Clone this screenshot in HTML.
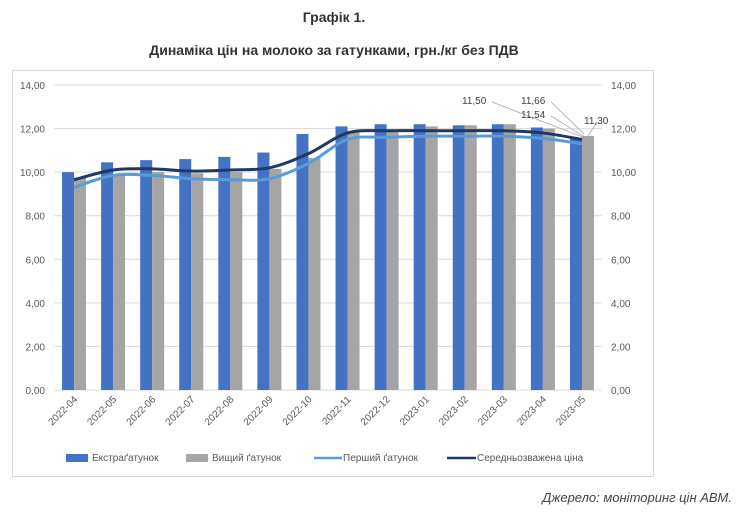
<!DOCTYPE html>
<html><head><meta charset="utf-8"><style>
body{margin:0;background:#fff;font-family:"Liberation Sans",sans-serif;}
svg text{font-family:"Liberation Sans",sans-serif;}
</style></head><body>
<svg width="740" height="512" viewBox="0 0 740 512" id="chart">
<text x="334" y="22" text-anchor="middle" font-size="14" font-weight="bold" fill="#333">Графік 1.</text>
<text x="334" y="55" text-anchor="middle" font-size="14" font-weight="bold" fill="#333">Динаміка цін на молоко за гатунками, грн./кг без ПДВ</text>
<rect x="12.5" y="70.5" width="641" height="406" fill="none" stroke="#d9d9d9"/>
<g id="grid"></g><g id="bars"></g><g id="lines"></g><g id="labels"></g>
<g font-size="10" fill="#595959">
<rect x="66" y="454" width="22" height="8" fill="#4472c4"/>
<text x="92" y="461">Екстраґатунок</text>
<rect x="186" y="454" width="22" height="8" fill="#a5a5a5"/>
<text x="212" y="461">Вищий ґатунок</text>
<line x1="314" y1="458" x2="342" y2="458" stroke="#5b9bd5" stroke-width="2.5"/>
<text x="343" y="461">Перший ґатунок</text>
<line x1="447" y1="458" x2="476" y2="458" stroke="#203864" stroke-width="2.5"/>
<text x="477" y="461">Середньозважена ціна</text>
</g>
<text x="732" y="502" text-anchor="end" font-size="13" font-style="italic" fill="#444">Джерело: моніторинг цін АВМ.</text>
</svg>
<script>
const categories=["2022-04","2022-05","2022-06","2022-07","2022-08","2022-09","2022-10","2022-11","2022-12","2023-01","2023-02","2023-03","2023-04","2023-05"];
const extra=[10.0,10.45,10.55,10.6,10.7,10.9,11.75,12.1,12.2,12.2,12.15,12.2,12.05,11.54];
const higher=[9.75,9.9,10.0,9.95,10.0,10.15,10.65,11.9,11.95,12.1,12.15,12.2,12.0,11.66];
const first=[9.3,9.85,9.85,9.7,9.65,9.7,10.4,11.5,11.6,11.65,11.65,11.65,11.55,11.30];
const avg=[9.65,10.1,10.15,10.05,10.1,10.2,10.85,11.8,11.9,11.9,11.9,11.9,11.8,11.5];
const ticks=[0,2,4,6,8,10,12,14];
const tickLabels=["0,00","2,00","4,00","6,00","8,00","10,00","12,00","14,00"];
const NS="http://www.w3.org/2000/svg";
const L=54.5,R=601.5,Y0=390,Y1=85,VMAX=14;
const step=(R-L)/categories.length;
const y=v=>Y0-(v/VMAX)*(Y0-Y1);
const xc=i=>L+step*(i+0.5);
function mk(t,a,p){const e=document.createElementNS(NS,t);for(const k in a)e.setAttribute(k,a[k]);p.appendChild(e);return e;}
const grid=document.getElementById('grid');
ticks.forEach((t,i)=>{
 const g=mk('line',{x1:L,x2:R,y1:y(t),y2:y(t),stroke:'#d9d9d9'},grid);
 
 
 const a=mk('text',{x:45,y:y(t)+4,'text-anchor':'end','font-size':10,fill:'#595959'},grid);a.textContent=tickLabels[i];
 
 
 const b=mk('text',{x:611,y:y(t)+4,'font-size':10,fill:'#595959'},grid);b.textContent=tickLabels[i];
 
 
});
const bars=document.getElementById('bars');const bw=12;
categories.forEach((c,i)=>{
 const b1=mk('rect',{x:xc(i)-bw,y:y(extra[i]),width:bw,height:Y0-y(extra[i]),fill:'#4472c4'},bars);
 
 
 const b2=mk('rect',{x:xc(i),y:y(higher[i]),width:bw,height:Y0-y(higher[i]),fill:'#a5a5a5'},bars);
 
 
 const t=mk('text',{'font-size':10,fill:'#595959','text-anchor':'end',transform:`translate(${xc(i)+4},${Y0+10}) rotate(-45)`},bars);
 t.textContent=c;
 
 
});
function smooth(vals){let p=vals.map((v,i)=>[xc(i),y(v)]);let d=`M${p[0][0]},${p[0][1]}`;
 for(let i=0;i<p.length-1;i++){const p0=p[i-1]||p[i],p1=p[i],p2=p[i+1],p3=p[i+2]||p2;
 d+=` C${p1[0]+(p2[0]-p0[0])/6},${p1[1]+(p2[1]-p0[1])/6} ${p2[0]-(p3[0]-p1[0])/6},${p2[1]-(p3[1]-p1[1])/6} ${p2[0]},${p2[1]}`;}return d;}
const lines=document.getElementById('lines');
const l1=mk('path',{d:smooth(first),fill:'none',stroke:'#5b9bd5','stroke-width':3},lines);


const l2=mk('path',{d:smooth(avg),fill:'none',stroke:'#203864','stroke-width':3},lines);


const lab=document.getElementById('labels');const n=categories.length-1;
const fmt=v=>v.toFixed(2).replace('.',',');
[[avg[n],462,104,492,102],[higher[n],521,104,551,102],[extra[n],521,118,551,116],[first[n],584,124,597,122]].forEach(([v,lx,ly,ex,ey])=>{
 const ln=mk('line',{x1:ex,y1:ey,x2:xc(n)+2,y2:y(v)-2,stroke:'#a6a6a6','stroke-width':0.8},lab);
 
 
 const t=mk('text',{x:lx,y:ly,'font-size':10,fill:'#404040'},lab);t.textContent=fmt(v);
 
 
});
</script>
</body></html>
